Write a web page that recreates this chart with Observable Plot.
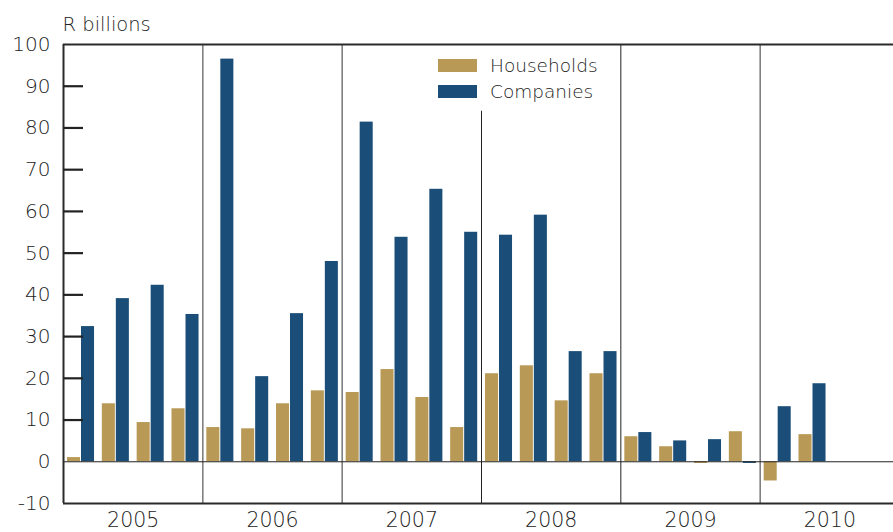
<!DOCTYPE html>
<html>
<head>
<meta charset="utf-8">
<script src="https://cdn.jsdelivr.net/npm/d3@7"></script>
<script src="https://cdn.jsdelivr.net/npm/@observablehq/plot@0.6"></script>
<style>
  html, body { margin: 0; padding: 0; background: #fff; overflow: hidden; }
  #wrap { position: relative; width: 893px; height: 532px; font-family: "DejaVu Sans", sans-serif; font-weight: 200; color: #222; }
  #wrap svg { font-family: "DejaVu Sans", sans-serif; font-weight: 200; font-size: 20px; }
  #legend { position: absolute; left: 438px; top: 53px; font-size: 18.5px; line-height: 25.5px; }
  #legend .row { display: flex; align-items: center; }
  #legend .sw { width: 39px; height: 13px; margin-right: 13px; }
</style>
</head>
<body>
<div id="wrap"></div>
<script>
const years = [2005, 2006, 2007, 2008, 2009, 2010];
const quarters = [
  "2005Q1","2005Q2","2005Q3","2005Q4",
  "2006Q1","2006Q2","2006Q3","2006Q4",
  "2007Q1","2007Q2","2007Q3","2007Q4",
  "2008Q1","2008Q2","2008Q3","2008Q4",
  "2009Q1","2009Q2","2009Q3","2009Q4",
  "2010Q1","2010Q2"
];
const households = [1.0, 13.9, 9.4, 12.7, 8.2, 7.9, 13.9, 17.0, 16.6, 22.1, 15.4, 8.2, 21.1, 23.0, 14.6, 21.1, 6.0, 3.6, -0.4, 7.2, -4.6, 6.5];
const companies  = [32.4, 39.1, 42.3, 35.3, 96.5, 20.4, 35.5, 48.0, 81.4, 53.8, 65.3, 55.0, 54.3, 59.1, 26.4, 26.4, 7.0, 5.0, 5.3, -0.4, 13.2, 18.7];
const yTicks = [-10, 0, 10, 20, 30, 40, 50, 60, 70, 80, 90, 100];
const seriesNames = ["Households", "Companies"];
const colors = ["#b89955", "#1a4d77"];

const t = quarters.map(q => +q.slice(0, 4) + (+q.slice(5) - 1) / 4);
const rows = quarters.map((q, i) => ({ t: t[i], h: households[i], c: companies[i] }));

const xDomain = [2005, 2011];
const xRange = [63, 899];
const yDomain = [-10, 100];
const yRange = [503, 44];
const xScale = d3.scaleLinear(xDomain, xRange);
const tickEnd = xScale.invert(xRange[0] + 20);
const innerTicks = yTicks.filter(v => v > 0 && v < 100);

const plot = Plot.plot({
  width: 893,
  height: 532,
  marginLeft: 63,
  marginRight: 0,
  marginTop: 44,
  marginBottom: 29,
  x: { domain: xDomain, range: xRange },
  y: { domain: yDomain, range: yRange },
  marks: [
    Plot.rectY(rows, { x1: "t", x2: d => d.t + 0.25, y1: 0, y2: "h", fill: colors[0], insetLeft: 4, insetRight: 17.8 }),
    Plot.rectY(rows, { x1: "t", x2: d => d.t + 0.25, y1: 0, y2: "c", fill: colors[1], insetLeft: 18, insetRight: 3.8 }),
    Plot.ruleX([2006, 2007, 2010], { stroke: "#6e6e6e", strokeWidth: 1.4 }),
    Plot.ruleX([2009], { stroke: "#222222", strokeWidth: 1 }),
    Plot.ruleX([2008], { y1: 84, y2: -10, stroke: "#222222", strokeWidth: 1 }),
    Plot.ruleY([0], { stroke: "#222222", strokeWidth: 1 }),
    Plot.ruleY([100, -10], { stroke: "#2a2a2a", strokeWidth: 2 }),
    Plot.ruleX([2005], { stroke: "#2a2a2a", strokeWidth: 2 }),
    Plot.ruleY(innerTicks, { x1: 2005, x2: tickEnd, stroke: "#222222", strokeWidth: 2.2 }),
    Plot.axisY({ ticks: yTicks, tickSize: 0, tickPadding: 13, tickFormat: d => String(d), label: null, fill: "#222222", fontSize: 20 }),
    Plot.axisX({ ticks: years.map(y => y + 0.5), tickFormat: d => String(Math.floor(d)), tickSize: 0, tickPadding: 9, label: null, fill: "#222222", fontSize: 20.5 }),
    Plot.text(["R billions"], { frameAnchor: "top-left", textAnchor: "start", dx: -1, dy: -27, fontSize: 19.5, fill: "#222222" })
  ]
});

const wrap = document.getElementById("wrap");
wrap.appendChild(plot);
const legend = document.createElement("div");
legend.id = "legend";
seriesNames.forEach((name, i) => {
  const row = document.createElement("div");
  row.className = "row";
  const sw = document.createElement("div");
  sw.className = "sw";
  sw.style.background = colors[i];
  const label = document.createElement("span");
  label.textContent = name;
  row.appendChild(sw);
  row.appendChild(label);
  legend.appendChild(row);
});
wrap.appendChild(legend);
</script>
</body>
</html>
